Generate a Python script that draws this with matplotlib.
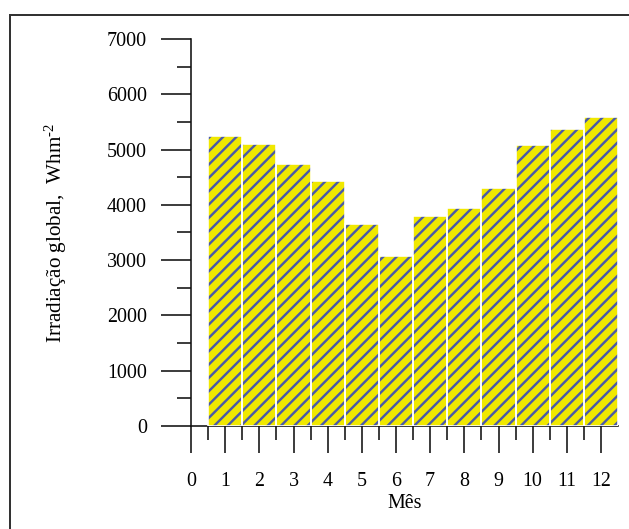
import matplotlib
matplotlib.use('Agg')
import matplotlib.pyplot as plt
from matplotlib.patches import Rectangle

# Data
months = [1, 2, 3, 4, 5, 6, 7, 8, 9, 10, 11, 12]
irradiation = [5250, 5100, 4740, 4440, 3650, 3070, 3800, 3950, 4310, 5080, 5370, 5590]
xtick_values = list(range(0, 13))
xtick_labels = [str(v) for v in xtick_values]
ytick_values = list(range(0, 7001, 1000))
ytick_labels = [str(v) for v in ytick_values]

DPI = 80
W, H = 629, 529


def px(p):
    return p * 72.0 / DPI


plt.rcParams['font.family'] = ['Liberation Serif', 'DejaVu Serif']
plt.rcParams['mathtext.fontset'] = 'custom'
plt.rcParams['mathtext.rm'] = 'Liberation Serif'
plt.rcParams['mathtext.it'] = 'Liberation Serif:italic'
plt.rcParams['mathtext.bf'] = 'Liberation Serif:bold'
plt.rcParams['hatch.linewidth'] = px(2.4)

fig = plt.figure(figsize=(W / DPI, H / DPI), dpi=DPI)
ax = fig.add_axes([191 / W, 103 / H, (618.1 - 191) / W, (426 - 39) / H])

ax.bar(months, irradiation, width=1.0, color='#f0e800', edgecolor='#4a5aa8',
       linewidth=0, hatch='//', zorder=3)
ax.bar(months, irradiation, width=1.0, fill=False, edgecolor='white',
       linewidth=px(1.6), zorder=4)

ax.set_xlim(0, 12.5)
ax.set_ylim(0, 7000)
for s in ['top', 'right']:
    ax.spines[s].set_visible(False)
for s in ['left', 'bottom']:
    ax.spines[s].set_linewidth(px(1.6))
    ax.spines[s].set_color('#111111')

ax.set_xticks(xtick_values)
ax.set_xticklabels(xtick_labels)
ax.set_xticks([m - 0.5 for m in months], minor=True)
ax.set_yticks(ytick_values)
ax.set_yticklabels(ytick_labels)
ax.set_yticks([v + 500 for v in ytick_values[:-1]], minor=True)

ax.tick_params(axis='y', which='major', length=px(30), width=px(1.6), pad=px(14),
               labelsize=18, color='#111111')
ax.tick_params(axis='y', which='minor', length=px(14), width=px(1.6), color='#111111')
ax.tick_params(axis='x', which='major', length=px(27), width=px(1.6), pad=px(19),
               labelsize=18, color='#111111')
ax.tick_params(axis='x', which='minor', length=px(14), width=px(1.6), color='#111111')

ax.set_xlabel('Mês', fontsize=18, labelpad=px(3))
ax.set_ylabel('Irradiação global,  Whm$^{\\text{-2}}$', fontsize=19, labelpad=px(38))

fig.add_artist(Rectangle((10 / W, -0.1), 2.0, 1.0 - 15 / H + 0.1,
                         transform=fig.transFigure, fill=False,
                         edgecolor='#333333', linewidth=px(2)))

fig.savefig('out.png', dpi=DPI)
